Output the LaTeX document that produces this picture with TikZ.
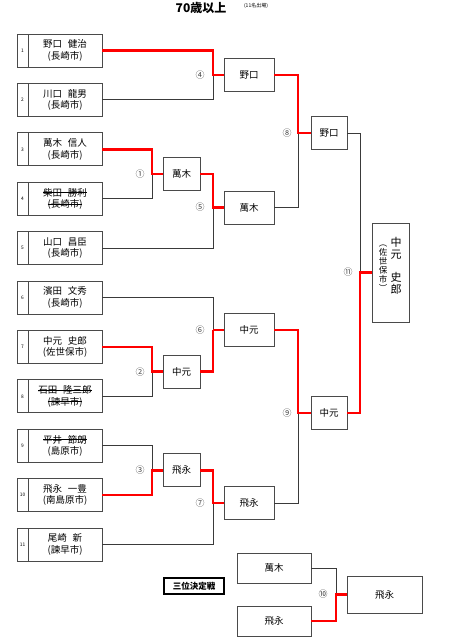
\documentclass[tikz,border=0pt]{standalone}
\usepackage{fontspec}
\setmainfont{Noto Sans CJK JP}
\newcommand\stk[1]{\setbox0\hbox{#1}\rlap{\rule[0.33em]{\wd0}{0.5pt}}\box0}
\newcommand\gp{\hspace{0.6em}}
\definecolor{bc}{HTML}{4A4A4A}
\definecolor{lc}{HTML}{3A3A3A}
\definecolor{labc}{HTML}{444444}
\tikzset{
 pbox/.style={draw=bc, line width=0.9pt, minimum width=74pt, minimum height=33pt, inner sep=0pt, align=center, font=\fontsize{9.5}{11.5}\selectfont},
 nbox/.style={draw=bc, line width=0.9pt, minimum width=11pt, minimum height=33pt, inner sep=0pt, font=\fontsize{4.8}{5}\selectfont},
 wbox/.style={draw=bc, line width=0.9pt, minimum height=33pt, inner sep=0pt, font=\fontsize{9.5}{11}\selectfont},
 gl/.style={draw=lc, line width=0.8pt},
 rl/.style={draw=red, line width=2.6pt},
 rthin/.style={draw=red, line width=1.2pt},
 lab/.style={font=\fontsize{9}{10}\selectfont, text=labc, inner sep=0pt}
}
\begin{document}
\begin{tikzpicture}[x=1pt,y=-1pt]
\useasboundingbox (0,0) rectangle (456,644);
% title
\node (title) [font=\fontsize{12}{13}\selectfont\bfseries, inner sep=0pt] at (201,7.5) {70歳以上};
\node (sub) [font=\fontsize{5}{6}\selectfont, inner sep=0pt] at (256,6) {(11名出場)};
% players
\foreach \i/\nm in {1/{野口\gp 健治\\(長崎市)},
  2/{川口\gp 龍男\\(長崎市)},
  3/{萬木\gp 信人\\(長崎市)},
  4/{\stk{柴田\gp 勝利}\\\stk{(長崎市)}},
  5/{山口\gp 昌臣\\(長崎市)},
  6/{濱田\gp 文秀\\(長崎市)},
  7/{中元\gp 史郎\\(佐世保市)},
  8/{\stk{石田\gp 隆三郎}\\\stk{(諫早市)}},
  9/{\stk{平井\gp 節朗}\\(島原市)},
  10/{飛永\gp 一豊\\(南島原市)},
  11/{尾崎\gp 新\\(諫早市)}}{
  \pgfmathsetmacro\yy{50.5+(\i-1)*49.4}
  \node (n\i) [nbox] at (22.5,\yy) {\i};
  \node (p\i) [pbox] at (65,\yy) {\nm};
}
% round 1 winners
\node (ra) [wbox, minimum width=37pt] at (181.5,174) {萬木};
\node (rb) [wbox, minimum width=37pt] at (181.5,371.6) {中元};
\node (rc) [wbox, minimum width=37pt] at (181.5,470.4) {飛永};
% round 2 winners
\node (sa) [wbox, minimum width=50pt] at (249,75.2) {野口};
\node (sb) [wbox, minimum width=50pt] at (249,207.5) {萬木};
\node (sc) [wbox, minimum width=50pt] at (249,330) {中元};
\node (sd) [wbox, minimum width=50pt] at (249,503) {飛永};
% semi winners
\node (ta) [wbox, minimum width=36pt] at (329,133) {野口};
\node (tb) [wbox, minimum width=36pt] at (329,413) {中元};
% champion
\node (fin) [draw=bc, line width=0.9pt, minimum width=37pt, minimum height=99pt, inner sep=0pt] at (390.5,272.5) {};
\node (fina) [font=\fontsize{11}{12}\selectfont, align=center, inner sep=0pt] at (396,266) {中\\元\\[11pt]史\\郎};
\node (finb) [font=\fontsize{8.5}{9}\selectfont, align=center, inner sep=0pt] at (383,268) {︵\\佐\\世\\保\\市\\︶};
% junctions
\coordinate (j1) at (152,174);
\coordinate (j2) at (152,371.6);
\coordinate (j3) at (152,470.4);
\coordinate (j4) at (213,75.2);
\coordinate (j5) at (213,207.5);
\coordinate (j6) at (213,330);
\coordinate (j7) at (213,503);
\coordinate (j8) at (298,133);
\coordinate (j9) at (298,413);
\coordinate (j11) at (360,272.5);
% gray lines
\draw[gl] (p2.east) -| (j4);
\draw[gl] (p4.east) -| (j1);
\draw[gl] (p5.east) -| (j5);
\draw[gl] (p6.east) -| (j6);
\draw[gl] (p8.east) -| (j2);
\draw[gl] (p9.east) -| (j3);
\draw[gl] (p11.east) -| (j7);
\draw[gl] (sb.east) -| (j8);
\draw[gl] (sd.east) -| (j9);
\draw[gl] (ta.east) -| (j11);
% red lines
\draw[rl] (p1.east) -| (j4) -- (sa.west);
\draw[rl] (p3.east) -| (j1) -- (ra.west);
\draw[rl] (p7.east) -| (j2) -- (rb.west);
\draw[rl] (p10.east) -| (j3) -- (rc.west);
\draw[rl] (ra.east) -| (j5) -- (sb.west);
\draw[rl] (rb.east) -| (j6);
\draw[rthin] (j6) -- (sc.west);
\draw[rl] (rc.east) -| (j7) -- (sd.west);
\draw[rl] (sa.east) -| (j8) -- (ta.west);
\draw[rl] (sc.east) -| (j9) -- (tb.west);
\draw[rl] (tb.east) -| (j11) -- (fin.west);
% labels
\node (l1) [lab] at (140,174) {①};
\node (l2) [lab] at (140,371.6) {②};
\node (l3) [lab] at (140,470.4) {③};
\node (l4) [lab] at (200,75.2) {④};
\node (l5) [lab] at (200,207.5) {⑤};
\node (l6) [lab] at (200,330) {⑥};
\node (l7) [lab] at (200,503) {⑦};
\node (l8) [lab] at (287,133) {⑧};
\node (l9) [lab] at (287,413) {⑨};
\node (l11) [lab] at (348,272.5) {⑪};
% third place
\node (tp) [draw=black, line width=2.4pt, minimum width=60pt, minimum height=16pt, inner sep=0pt, font=\fontsize{8.5}{9}\selectfont\bfseries] at (194,586) {三位決定戦};
\node (ua) [wbox, minimum width=74pt, minimum height=30pt] at (274,568) {萬木};
\node (ub) [wbox, minimum width=74pt, minimum height=30pt] at (274,621) {飛永};
\node (uw) [wbox, minimum width=75pt, minimum height=37pt] at (384.5,594.5) {飛永};
\coordinate (j10) at (336,594.5);
\draw[gl] (ua.east) -| (j10);
\draw[rl] (ub.east) -| (j10) -- (uw.west);
\node (l10) [lab] at (323,594.5) {⑩};
\end{tikzpicture}
\end{document}
